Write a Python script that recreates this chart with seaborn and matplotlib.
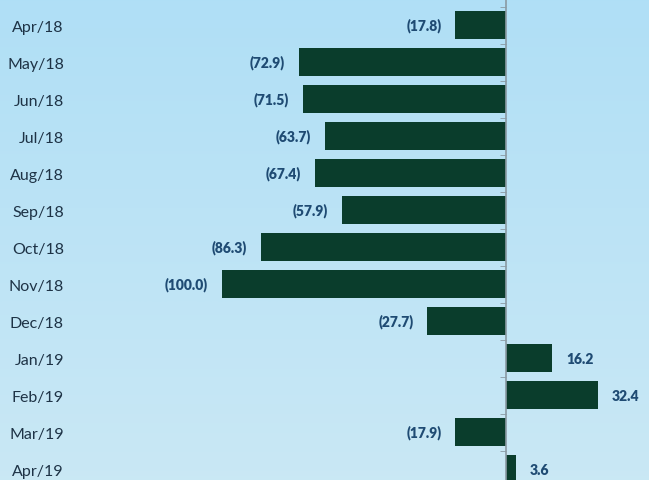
import numpy as np
import pandas as pd
import matplotlib
matplotlib.use("Agg")
import matplotlib.pyplot as plt
import seaborn as sns
from matplotlib.ticker import FixedLocator

# Data
months = ["Apr/18", "May/18", "Jun/18", "Jul/18", "Aug/18", "Sep/18", "Oct/18",
          "Nov/18", "Dec/18", "Jan/19", "Feb/19", "Mar/19", "Apr/19"]
values = [-17.8, -72.9, -71.5, -63.7, -67.4, -57.9, -86.3,
          -100.0, -27.7, 16.2, 32.4, -17.9, 3.6]

df = pd.DataFrame({"month": months, "value": values})

sns.set_style("white")
plt.rcParams["font.family"] = ["Lato", "DejaVu Sans"]

fig = plt.figure(figsize=(6.49, 4.81), dpi=100)

# Background gradient across the whole figure
bg = fig.add_axes([0, 0, 1, 1], zorder=0)
grad = np.linspace(0, 1, 256).reshape(-1, 1)
top = np.array([0.69, 0.875, 0.965])
bottom = np.array([0.79, 0.91, 0.96])
img = top + (bottom - top) * grad[..., None]
bg.imshow(img, aspect="auto", extent=[0, 1, 0, 1], origin="upper")
bg.axis("off")

ax = fig.add_axes([100 / 649, 0, 549 / 649, 1], zorder=1)
ax.patch.set_alpha(0)

sns.barplot(data=df, x="value", y="month", orient="h", color="#0a3d2c",
            saturation=1, width=0.76, edgecolor="none", ax=ax)

ax.set_xlim(-143, 50.35)
ax.set_ylim(12.297, -0.703)
ax.set_xlabel("")
ax.set_ylabel("")
ax.set_xticks([])

for s in ["top", "bottom", "left"]:
    ax.spines[s].set_visible(False)
ax.spines["right"].set_position(("data", 0))
ax.spines["right"].set_color("#8a9aa3")
ax.spines["right"].set_linewidth(1.2)

ax.yaxis.set_minor_locator(FixedLocator(np.arange(-0.5, 13, 1)))
ax.tick_params(axis="y", which="major", left=False, right=False, labelleft=True,
               pad=22.5, labelsize=11.5, labelcolor="#1e3346")
ax.tick_params(axis="y", which="minor", left=False, right=True, direction="in",
               length=4, color="#8a9aa3")

labels = [f"({abs(v):.1f})" if v < 0 else f"{v:.1f}" for v in values]
ax.bar_label(ax.containers[0], labels=labels, padding=10, fontsize=10,
             fontweight="heavy", color="#1f4b73")

fig.savefig("out.png", dpi=100)
